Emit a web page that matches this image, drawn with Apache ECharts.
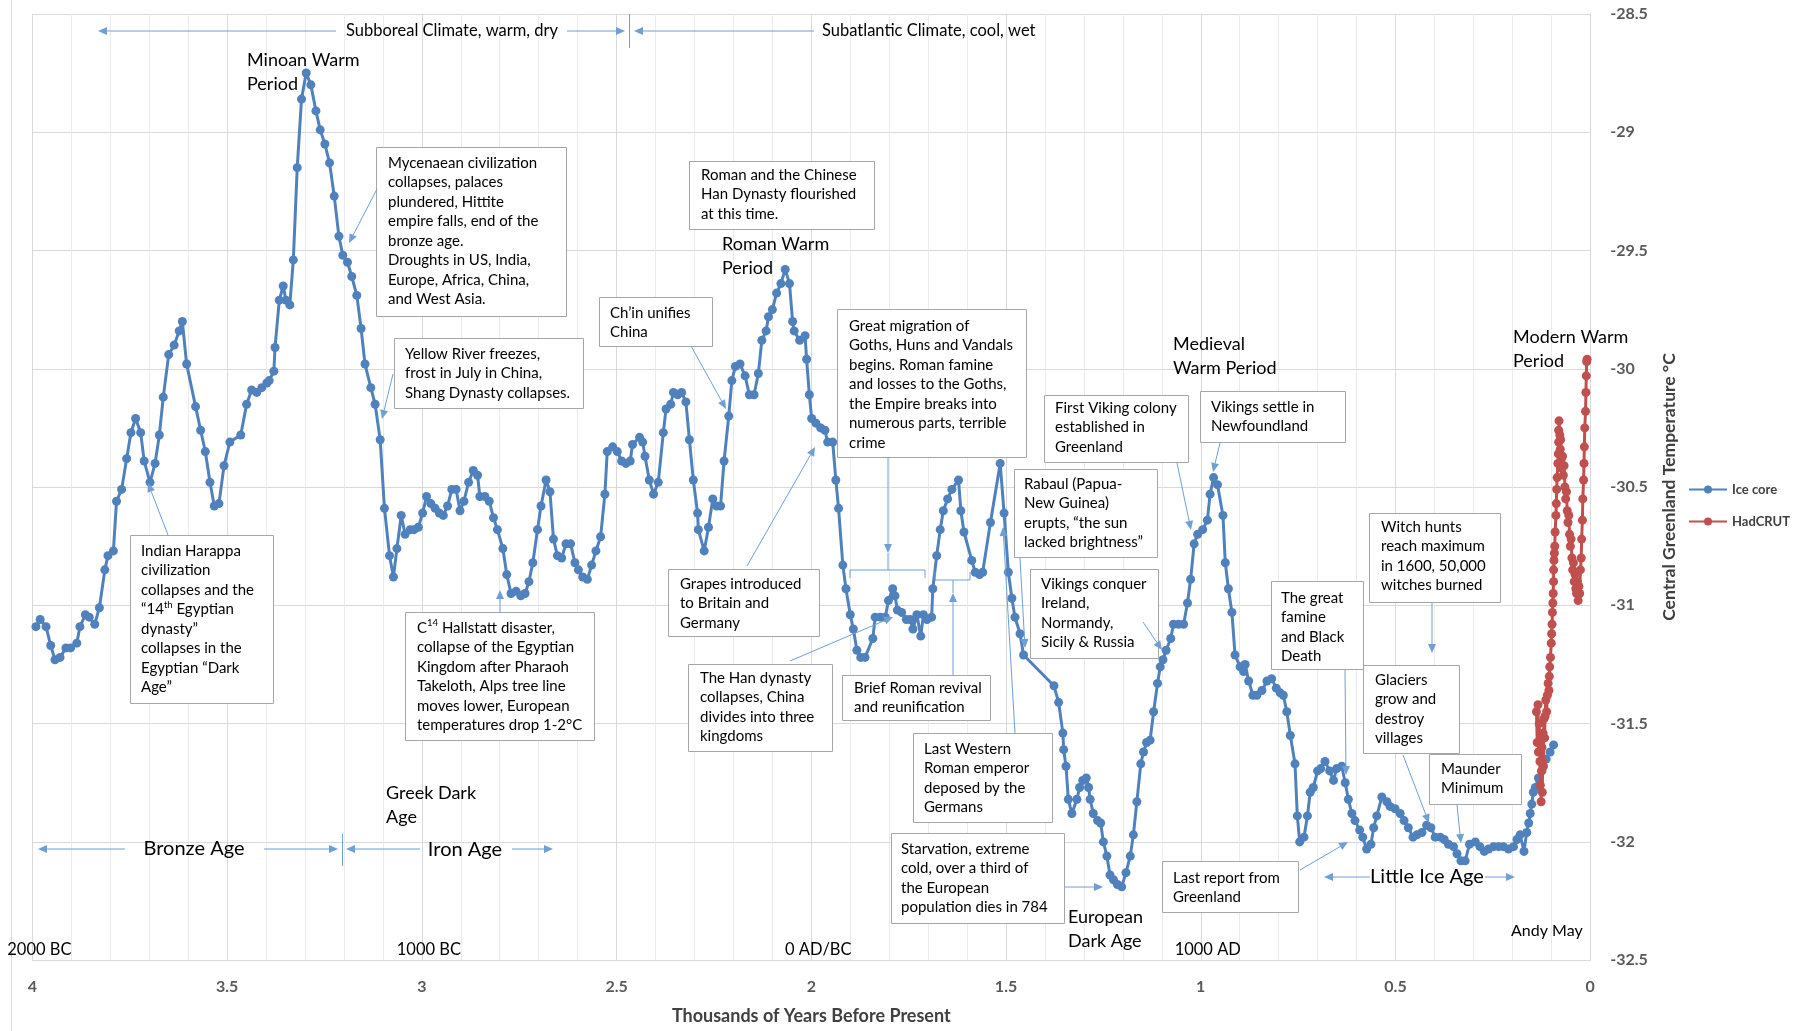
<!DOCTYPE html>
<html><head><meta charset="utf-8">
<script src="https://cdn.jsdelivr.net/npm/echarts/dist/echarts.min.js"></script>
<style>html,body{margin:0;padding:0;background:#fff}#c{width:1816px;height:1031px}</style>
</head><body><div id="c"></div>
<script>
// ---- DATA (age in thousands of years before present, temperature °C) ----
const iceCore = [
[3.991,-31.09],[3.980,-31.06],[3.965,-31.09],[3.953,-31.17],[3.942,-31.23],[3.929,-31.22],[3.914,-31.18],[3.902,-31.18],[3.886,-31.16],[3.878,-31.09],
[3.864,-31.04],[3.854,-31.05],[3.840,-31.08],[3.828,-31.01],[3.814,-30.85],[3.806,-30.79],[3.792,-30.77],[3.784,-30.56],[3.771,-30.51],[3.758,-30.38],
[3.747,-30.27],[3.735,-30.21],[3.722,-30.27],[3.713,-30.39],[3.698,-30.48],[3.685,-30.40],[3.674,-30.28],[3.664,-30.12],[3.650,-29.94],[3.636,-29.90],
[3.623,-29.84],[3.615,-29.80],[3.604,-29.98],[3.581,-30.16],[3.568,-30.26],[3.556,-30.35],[3.544,-30.48],[3.533,-30.58],[3.521,-30.57],[3.508,-30.41],
[3.493,-30.31],[3.465,-30.28],[3.450,-30.15],[3.437,-30.09],[3.424,-30.10],[3.411,-30.08],[3.398,-30.06],[3.392,-30.05],[3.380,-30.01],[3.377,-29.91],
[3.366,-29.71],[3.356,-29.65],[3.349,-29.71],[3.339,-29.73],[3.330,-29.54],[3.320,-29.15],[3.309,-28.86],[3.297,-28.75],[3.285,-28.80],[3.272,-28.91],
[3.261,-28.99],[3.249,-29.05],[3.237,-29.13],[3.225,-29.27],[3.213,-29.44],[3.203,-29.52],[3.191,-29.55],[3.180,-29.61],[3.167,-29.69],[3.156,-29.83],
[3.146,-29.98],[3.131,-30.08],[3.120,-30.15],[3.107,-30.30],[3.096,-30.59],[3.083,-30.79],[3.073,-30.88],[3.064,-30.76],[3.053,-30.62],[3.043,-30.70],
[3.030,-30.68],[3.020,-30.68],[3.009,-30.67],[2.998,-30.61],[2.988,-30.54],[2.977,-30.57],[2.966,-30.59],[2.955,-30.61],[2.945,-30.62],[2.934,-30.58],
[2.923,-30.51],[2.912,-30.51],[2.902,-30.60],[2.892,-30.56],[2.880,-30.48],[2.868,-30.43],[2.857,-30.45],[2.851,-30.54],[2.838,-30.54],[2.827,-30.56],
[2.816,-30.63],[2.806,-30.68],[2.792,-30.76],[2.782,-30.87],[2.771,-30.95],[2.758,-30.94],[2.746,-30.96],[2.735,-30.95],[2.725,-30.90],[2.715,-30.82],
[2.703,-30.68],[2.694,-30.58],[2.681,-30.47],[2.671,-30.52],[2.662,-30.72],[2.652,-30.79],[2.641,-30.80],[2.630,-30.74],[2.618,-30.74],[2.607,-30.82],
[2.598,-30.85],[2.587,-30.88],[2.575,-30.89],[2.564,-30.83],[2.553,-30.77],[2.541,-30.71],[2.530,-30.53],[2.524,-30.35],[2.510,-30.33],[2.498,-30.35],
[2.487,-30.39],[2.476,-30.40],[2.465,-30.39],[2.459,-30.32],[2.441,-30.29],[2.433,-30.31],[2.427,-30.37],[2.416,-30.47],[2.405,-30.53],[2.393,-30.48],
[2.380,-30.27],[2.373,-30.17],[2.361,-30.15],[2.354,-30.10],[2.343,-30.11],[2.333,-30.10],[2.322,-30.14],[2.313,-30.30],[2.303,-30.47],[2.292,-30.61],
[2.290,-30.68],[2.275,-30.77],[2.264,-30.67],[2.253,-30.55],[2.243,-30.58],[2.233,-30.58],[2.224,-30.39],[2.212,-30.20],[2.204,-30.05],[2.195,-29.99],
[2.183,-29.98],[2.170,-30.03],[2.159,-30.11],[2.147,-30.11],[2.136,-30.02],[2.127,-29.88],[2.116,-29.84],[2.110,-29.78],[2.100,-29.75],[2.089,-29.68],
[2.078,-29.64],[2.067,-29.58],[2.056,-29.64],[2.048,-29.80],[2.044,-29.84],[2.030,-29.88],[2.016,-29.86],[2.012,-29.96],[2.005,-30.11],[1.999,-30.21],
[1.988,-30.23],[1.976,-30.25],[1.965,-30.26],[1.958,-30.31],[1.945,-30.31],[1.937,-30.47],[1.930,-30.59],[1.919,-30.83],[1.911,-30.93],[1.900,-31.04],
[1.892,-31.10],[1.883,-31.19],[1.873,-31.22],[1.862,-31.22],[1.842,-31.14],[1.836,-31.05],[1.823,-31.05],[1.810,-31.05],[1.802,-30.98],[1.791,-30.93],
[1.785,-30.96],[1.779,-31.02],[1.768,-31.03],[1.756,-31.06],[1.746,-31.06],[1.739,-31.10],[1.729,-31.04],[1.719,-31.13],[1.712,-31.04],[1.703,-31.06],
[1.691,-31.05],[1.688,-30.93],[1.678,-30.79],[1.669,-30.68],[1.661,-30.60],[1.650,-30.55],[1.639,-30.51],[1.622,-30.47],[1.616,-30.60],[1.608,-30.69],
[1.588,-30.81],[1.579,-30.86],[1.568,-30.87],[1.560,-30.86],[1.540,-30.65],[1.515,-30.40],[1.505,-30.61],[1.494,-30.86],[1.485,-30.97],[1.477,-31.05],
[1.464,-31.12],[1.455,-31.21],[1.377,-31.34],[1.365,-31.41],[1.354,-31.54],[1.352,-31.61],[1.346,-31.68],[1.340,-31.82],[1.331,-31.88],[1.318,-31.82],
[1.311,-31.77],[1.303,-31.74],[1.294,-31.73],[1.288,-31.77],[1.284,-31.82],[1.276,-31.88],[1.265,-31.91],[1.257,-31.92],[1.250,-32.00],[1.241,-32.06],
[1.233,-32.14],[1.224,-32.16],[1.214,-32.18],[1.203,-32.19],[1.192,-32.13],[1.181,-32.06],[1.173,-31.97],[1.164,-31.83],[1.154,-31.67],[1.147,-31.62],
[1.139,-31.58],[1.130,-31.57],[1.121,-31.45],[1.111,-31.33],[1.104,-31.26],[1.097,-31.23],[1.089,-31.19],[1.077,-31.14],[1.070,-31.08],[1.057,-31.08],
[1.044,-31.08],[1.034,-30.99],[1.026,-30.89],[1.017,-30.74],[1.008,-30.70],[0.995,-30.68],[0.983,-30.64],[0.976,-30.53],[0.967,-30.46],[0.957,-30.49],
[0.943,-30.62],[0.937,-30.82],[0.929,-30.93],[0.920,-31.03],[0.912,-31.21],[0.899,-31.26],[0.890,-31.28],[0.886,-31.25],[0.877,-31.32],[0.866,-31.38],
[0.856,-31.38],[0.843,-31.36],[0.830,-31.32],[0.818,-31.31],[0.806,-31.35],[0.796,-31.37],[0.788,-31.38],[0.779,-31.45],[0.770,-31.55],[0.758,-31.67],
[0.752,-31.89],[0.746,-32.00],[0.735,-31.98],[0.726,-31.89],[0.719,-31.79],[0.711,-31.77],[0.700,-31.70],[0.692,-31.69],[0.681,-31.66],[0.669,-31.70],
[0.659,-31.74],[0.651,-31.69],[0.638,-31.68],[0.629,-31.75],[0.621,-31.82],[0.612,-31.88],[0.604,-31.91],[0.592,-31.95],[0.584,-31.98],[0.574,-32.03],
[0.563,-32.01],[0.556,-31.94],[0.548,-31.89],[0.535,-31.81],[0.522,-31.83],[0.514,-31.85],[0.501,-31.86],[0.488,-31.88],[0.478,-31.91],[0.467,-31.94],
[0.455,-31.98],[0.445,-31.97],[0.432,-31.96],[0.420,-31.93],[0.409,-31.94],[0.398,-31.98],[0.385,-31.98],[0.375,-31.99],[0.364,-32.01],[0.351,-32.02],
[0.342,-32.05],[0.332,-32.08],[0.321,-32.08],[0.310,-32.01],[0.295,-32.00],[0.283,-32.02],[0.272,-32.04],[0.261,-32.03],[0.248,-32.02],[0.235,-32.02],
[0.223,-32.02],[0.210,-32.03],[0.197,-32.02],[0.188,-31.99],[0.180,-31.97],[0.170,-32.04],[0.163,-31.96],[0.158,-31.92],[0.154,-31.88],[0.150,-31.84],
[0.146,-31.79],[0.141,-31.77],[0.133,-31.73],[0.124,-31.70],[0.113,-31.65],[0.103,-31.62],[0.094,-31.59]
];
const hadCRUT = [
[0.138,-31.45],[0.136,-31.58],[0.134,-31.42],[0.133,-31.62],[0.131,-31.50],[0.129,-31.66],[0.128,-31.76],[0.127,-31.56],[0.126,-31.83],[0.125,-31.70],
[0.124,-31.60],[0.123,-31.79],[0.122,-31.66],[0.121,-31.54],[0.120,-31.68],[0.119,-31.48],[0.117,-31.56],[0.116,-31.47],[0.114,-31.40],[0.112,-31.45],
[0.110,-31.38],[0.108,-31.33],[0.106,-31.36],[0.105,-31.30],[0.104,-31.26],[0.102,-31.22],[0.100,-31.16],[0.099,-31.12],[0.098,-31.08],[0.097,-31.03],
[0.096,-30.99],[0.095,-30.95],[0.094,-30.90],[0.094,-30.85],[0.093,-30.81],[0.092,-30.78],[0.091,-30.75],[0.090,-30.69],[0.088,-30.62],[0.087,-30.57],
[0.086,-30.51],[0.085,-30.46],[0.083,-30.40],[0.082,-30.36],[0.081,-30.31],[0.081,-30.26],[0.080,-30.22],[0.078,-30.28],[0.077,-30.34],[0.076,-30.30],
[0.074,-30.38],[0.073,-30.42],[0.071,-30.37],[0.069,-30.45],[0.067,-30.41],[0.065,-30.50],[0.063,-30.55],[0.061,-30.52],[0.059,-30.60],[0.057,-30.65],
[0.055,-30.62],[0.053,-30.70],[0.051,-30.75],[0.049,-30.72],[0.047,-30.80],[0.045,-30.85],[0.043,-30.82],[0.041,-30.90],[0.039,-30.87],[0.037,-30.93],
[0.035,-30.95],[0.033,-30.90],[0.031,-30.98],[0.029,-30.92],[0.027,-30.95],[0.025,-30.85],[0.023,-30.80],[0.022,-30.72],[0.020,-30.64],[0.019,-30.55],
[0.017,-30.47],[0.016,-30.40],[0.015,-30.33],[0.014,-30.25],[0.012,-30.18],[0.011,-30.10],[0.010,-30.03],[0.009,-29.97],[0.008,-29.96]
];
const seriesNames = ['Ice core', 'HadCRUT'];
const eraLabels = ['2000 BC', '1000 BC', '0 AD/BC', '1000 AD'];
const eraAges = [4, 3, 2, 1];

// ---- STYLE / LAYOUT ----
const FONT = 'Lato, "Open Sans", sans-serif';
const ARROW = '#6f9fd4';
const BORDER = '#a6a6a6';
const G = [];
function line(x1, y1, x2, y2, color) {
  G.push({type: 'line', z: 60, shape: {x1, y1, x2, y2}, style: {stroke: color || ARROW, lineWidth: 1}});
}
function poly(points, color) {
  G.push({type: 'polyline', z: 60, shape: {points}, style: {stroke: color || ARROW, lineWidth: 1, fill: null}});
}
function arrow(x1, y1, x2, y2, head, hw) {
  head = head || 9; hw = hw || 4;
  const a = Math.atan2(y2 - y1, x2 - x1);
  const bx = x2 - head * Math.cos(a), by = y2 - head * Math.sin(a);
  const px = -Math.sin(a) * hw, py = Math.cos(a) * hw;
  line(x1, y1, bx, by);
  G.push({type: 'polygon', z: 61, shape: {points: [[x2, y2], [bx + px, by + py], [bx - px, by - py]]}, style: {fill: ARROW}});
}
const rich = {
  sup: {fontSize: 9.5, fontFamily: FONT, fill: '#000', verticalAlign: 'top', lineHeight: 12}
};
function label(x, y, text, size, opt) {
  opt = opt || {};
  G.push({type: 'text', z: 62, x, y, style: {
    text, fill: opt.color || '#000', fontSize: size, fontFamily: FONT, fontWeight: opt.weight || 'normal',
    lineHeight: opt.lh || Math.round(size * 1.22), align: opt.align || 'left', verticalAlign: opt.va || 'top', rich
  }});
}
function box(b) {
  G.push({type: 'rect', z: 55, shape: {x: b.x + 0.5, y: b.y + 0.5, width: b.w, height: b.h}, style: {fill: '#fff', stroke: BORDER, lineWidth: 1}});
  label(b.tx, b.ty, b.text, 15, {lh: 19.5});
}

const boxes = [
  {x: 376, y: 147, w: 190, h: 169, tx: 388, ty: 153, text: 'Mycenaean civilization\ncollapses, palaces\nplundered, Hittite\nempire falls, end of the\nbronze age.\nDroughts in US, India,\nEurope, Africa, China,\nand West Asia.'},
  {x: 394, y: 338, w: 189, h: 70, tx: 405, ty: 344, text: 'Yellow River freezes,\nfrost in July in China,\nShang Dynasty collapses.'},
  {x: 130, y: 535, w: 143, h: 168, tx: 141, ty: 541, text: 'Indian Harappa\ncivilization\ncollapses and the\n\u201c14{sup|th} Egyptian\ndynasty\u201d\ncollapses in the\nEgyptian \u201cDark\nAge\u201d'},
  {x: 599, y: 297, w: 113, h: 49, tx: 610, ty: 303, text: 'Ch\u2019in unifies\nChina'},
  {x: 689, y: 161, w: 185, h: 68, tx: 701, ty: 165, text: 'Roman and the Chinese\nHan Dynasty flourished\nat this time.'},
  {x: 837, y: 309, w: 189, h: 148, tx: 849, ty: 316, text: 'Great migration of\nGoths, Huns and Vandals\nbegins. Roman famine\nand losses to the Goths,\nthe Empire breaks into\nnumerous parts, terrible\ncrime'},
  {x: 668, y: 569, w: 151, h: 67, tx: 680, ty: 574, text: 'Grapes introduced\nto Britain and\nGermany'},
  {x: 688, y: 664, w: 144, h: 87, tx: 700, ty: 668, text: 'The Han dynasty\ncollapses, China\ndivides into three\nkingdoms'},
  {x: 842, y: 675, w: 148, h: 45, tx: 854, ty: 678, text: 'Brief Roman revival\nand reunification'},
  {x: 913, y: 733, w: 139, h: 89, tx: 924, ty: 739, text: 'Last Western\nRoman emperor\ndeposed by the\nGermans'},
  {x: 891, y: 833, w: 173, h: 90, tx: 901, ty: 839, text: 'Starvation, extreme\ncold, over a third of\nthe European\npopulation dies in 784'},
  {x: 1014, y: 469, w: 143, h: 88, tx: 1024, ty: 474, text: 'Rabaul (Papua-\nNew Guinea)\nerupts, \u201cthe sun\nlacked brightness\u201d'},
  {x: 1030, y: 569, w: 128, h: 89, tx: 1041, ty: 574, text: 'Vikings conquer\nIreland,\nNormandy,\nSicily & Russia'},
  {x: 1044, y: 395, w: 144, h: 67, tx: 1055, ty: 398, text: 'First Viking colony\nestablished in\nGreenland'},
  {x: 1200, y: 391, w: 145, h: 51, tx: 1211, ty: 397, text: 'Vikings settle in\nNewfoundland'},
  {x: 1369, y: 513, w: 131, h: 89, tx: 1381, ty: 517, text: 'Witch hunts\nreach maximum\nin 1600, 50,000\nwitches burned'},
  {x: 1271, y: 581, w: 92, h: 88, tx: 1281, ty: 588, text: 'The great\nfamine\nand Black\nDeath'},
  {x: 1363, y: 665, w: 96, h: 88, tx: 1375, ty: 670, text: 'Glaciers\ngrow and\ndestroy\nvillages'},
  {x: 1429, y: 754, w: 92, h: 50, tx: 1441, ty: 759, text: 'Maunder\nMinimum'},
  {x: 1162, y: 861, w: 136, h: 51, tx: 1173, ty: 868, text: 'Last report from\nGreenland'},
  {x: 405, y: 612, w: 189, h: 128, tx: 417, ty: 618, text: 'C{sup|14} Hallstatt disaster,\ncollapse of the Egyptian\nKingdom after Pharaoh\nTakeloth, Alps tree line\nmoves lower, European\ntemperatures drop 1-2\u00b0C'}
];

// box pointer arrows
arrow(377, 189, 349, 243);
arrow(393, 374, 382, 419);
arrow(168, 535, 148, 483);
arrow(691, 346, 726, 409);
arrow(888, 457, 888, 553); line(888, 553, 888, 570); poly([[850, 578], [850, 570], [925, 570], [925, 578]]);
arrow(747, 566, 815, 447);
arrow(790, 661, 893, 617);
arrow(953, 675, 953, 593); line(953, 593, 953, 580); poly([[935, 572], [935, 580], [970, 580], [970, 572]]);
arrow(1015, 733, 1003, 527);
arrow(1065, 887, 1103, 887);
arrow(1020, 558, 1025, 648);
arrow(1143, 622, 1162, 650);
arrow(1177, 463, 1191, 530);
arrow(1220, 443, 1213, 472);
arrow(1432, 603, 1432, 653);
arrow(1345, 670, 1346, 775);
arrow(1403, 755, 1429, 823);
arrow(1457, 805, 1461, 843);
arrow(1300, 870, 1348, 842);
arrow(500, 612, 500, 590);
boxes.forEach(box);

// period labels
label(247, 48, 'Minoan Warm\nPeriod', 18, {lh: 24});
label(722, 232, 'Roman Warm\nPeriod', 18, {lh: 24});
label(1173, 332, 'Medieval\nWarm Period', 18, {lh: 24});
label(1513, 325, 'Modern Warm\nPeriod', 18, {lh: 24});
label(386, 781, 'Greek Dark\nAge', 18, {lh: 24});
label(1068, 905, 'European\nDark Age', 18, {lh: 24});

// climate bands at top
label(452, 31, 'Subboreal Climate, warm, dry', 16.5, {align: 'center', va: 'middle'});
arrow(336, 31, 98, 31); arrow(567, 31, 625, 31);
line(629.5, 14, 629.5, 48);
arrow(814, 31, 634, 31);
label(822, 31, 'Subatlantic Climate, cool, wet', 16.5, {va: 'middle'});

// ages at bottom
label(194, 849, 'Bronze Age', 20, {align: 'center', va: 'middle'});
arrow(125, 849, 38, 849); arrow(264, 849, 338, 849);
line(342.5, 834, 342.5, 866);
label(465, 850, 'Iron Age', 20, {align: 'center', va: 'middle'});
arrow(420, 849, 346, 849); arrow(512, 849, 553, 849);
label(1427, 877, 'Little Ice Age', 20, {align: 'center', va: 'middle'});
arrow(1370, 877, 1324, 877); arrow(1485, 877, 1515, 877);

label(1511, 931, 'Andy May', 16, {va: 'middle'});
// outer chart frame line on the left
G.push({type: 'line', z: 1, shape: {x1: 11.5, y1: 0, x2: 11.5, y2: 1031}, style: {stroke: '#d9d9d9', lineWidth: 1}});

const chart = echarts.init(document.getElementById('c'), null, {renderer: 'canvas'});
const axisLabelStyle = {color: '#595959', fontFamily: FONT, fontWeight: 'bold', fontSize: 16};
chart.setOption({
  animation: false,
  backgroundColor: '#fff',
  grid: {left: 32.4, right: 225.8, top: 13.9, bottom: 70.8, containLabel: false},
  legend: {
    data: seriesNames, orient: 'vertical', left: 1683, top: 478, itemWidth: 38, itemHeight: 10, itemGap: 19,
    textStyle: {color: '#404040', fontFamily: FONT, fontWeight: 'bold', fontSize: 13}
  },
  xAxis: {
    type: 'value', min: 0, max: 4, interval: 0.5, inverse: true,
    name: 'Thousands of Years Before Present', nameLocation: 'middle', nameGap: 47,
    nameTextStyle: {color: '#404040', fontFamily: FONT, fontWeight: 'bold', fontSize: 18},
    axisLine: {show: true, lineStyle: {color: '#d9d9d9'}}, axisTick: {show: false},
    axisLabel: Object.assign({margin: 19}, axisLabelStyle),
    splitLine: {show: true, lineStyle: {color: '#d9d9d9'}},
    minorTick: {show: false, splitNumber: 5},
    minorSplitLine: {show: true, lineStyle: {color: '#ebebeb'}}
  },
  yAxis: {
    type: 'value', position: 'right', min: -32.5, max: -28.5, interval: 0.5,
    name: 'Central Greenland Temperature \u00b0C', nameLocation: 'middle', nameRotate: 90, nameGap: 70,
    nameTextStyle: {color: '#404040', fontFamily: FONT, fontWeight: 'bold', fontSize: 17.5},
    axisLine: {show: true, lineStyle: {color: '#d9d9d9'}}, axisTick: {show: false},
    axisLabel: Object.assign({margin: 20}, axisLabelStyle),
    splitLine: {show: true, lineStyle: {color: '#d9d9d9'}}
  },
  series: [
    {name: seriesNames[0], type: 'line', data: iceCore, symbol: 'circle', symbolSize: 9, showAllSymbol: true,
     lineStyle: {color: '#4f81bd', width: 3}, itemStyle: {color: '#4f81bd'}, z: 3},
    {name: seriesNames[1], type: 'line', data: hadCRUT, symbol: 'circle', symbolSize: 9, showAllSymbol: true,
     lineStyle: {color: '#c0504d', width: 3}, itemStyle: {color: '#c0504d'}, z: 4}
  ],
  graphic: G
});
// era labels positioned through the x axis scale
const eraG = eraLabels.map((t, i) => {
  const px = chart.convertToPixel({xAxisIndex: 0}, eraAges[i]);
  return {type: 'text', z: 62, x: px + 7, y: 950, style: {text: t, fontSize: 16.5, fontFamily: FONT, fill: '#000', align: 'center', verticalAlign: 'middle'}};
});
chart.setOption({graphic: G.concat(eraG)});
</script>
</body></html>
